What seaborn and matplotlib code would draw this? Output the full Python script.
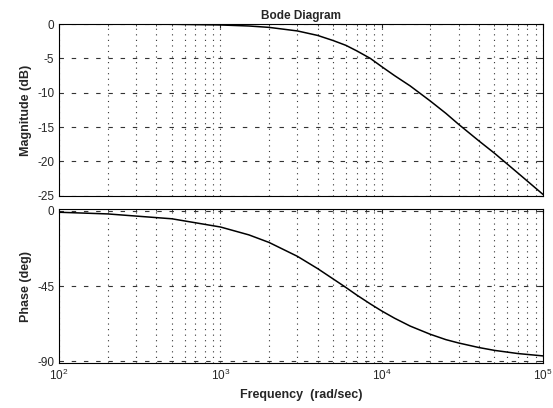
import numpy as np
import pandas as pd
import matplotlib
matplotlib.use("Agg")
import matplotlib.pyplot as plt
import seaborn as sns

# values (rad/sec, dB, deg)
freq = [100, 200, 500, 1000, 1500, 2000, 3000, 4000, 5000, 6000, 7000, 8500,
        10000, 12000, 15000, 20000, 25000, 30000, 40000, 50000, 70000, 100000]
mag_db = [0.0, -0.01, -0.03, -0.13, -0.28, -0.48, -1.0, -1.65, -2.4, -3.1,
          -3.9, -5.0, -6.2, -7.5, -9.0, -11.2, -13.0, -14.6, -17.0, -18.8,
          -21.7, -24.8]
phase_deg = [-1.0, -2.0, -4.9, -9.8, -14.5, -19.0, -27.3, -34.6, -40.8, -45.9,
             -50.4, -55.7, -59.9, -64.2, -68.9, -73.8, -77.0, -79.0, -81.7,
             -83.4, -85.3, -86.7]

mag_ticks = [0, -5, -10, -15, -20, -25]
phase_ticks = [0, -45, -90]

df = pd.DataFrame({"freq": freq, "mag": mag_db, "phase": phase_deg})

sns.set_style("white")
plt.rcParams["font.family"] = ["Liberation Sans", "DejaVu Sans"]
plt.rcParams["axes.unicode_minus"] = False
plt.rcParams["xtick.direction"] = "in"
plt.rcParams["ytick.direction"] = "in"

fig = plt.figure(figsize=(5.53, 4.08), dpi=100)
ax1 = fig.add_axes([0.107, 0.52, 0.875, 0.421])
ax2 = fig.add_axes([0.107, 0.110, 0.875, 0.378])

sns.lineplot(data=df, x="freq", y="mag", ax=ax1, color="black", lw=1.1)
sns.lineplot(data=df, x="freq", y="phase", ax=ax2, color="black", lw=1.1)

for ax in (ax1, ax2):
    ax.set_xscale("log")
    ax.set_xlim(1e2, 1e5)
    ax.grid(axis="x", which="both", ls=(0, (1, 4)), color="#333333", lw=0.8)
    ax.grid(axis="y", which="major", ls=(0, (4, 7)), color="#333333", lw=0.8)
    ax.tick_params(which="both", top=True, right=True, labelsize=8.5, length=3)
    ax.tick_params(which="minor", length=1.5)
    for s in ax.spines.values():
        s.set_color("black")
        s.set_linewidth(0.8)

ax1.set_ylim(-25, 0)
ax1.set_yticks(mag_ticks)
ax1.tick_params(axis="x", which="both", labelbottom=False)
ax1.set_xlabel("")
ax1.set_ylabel("Magnitude (dB)", fontsize=9, fontweight="bold")
ax1.set_title("Bode Diagram", fontsize=8.5, fontweight="bold", pad=4)

ax2.set_ylim(-91, 1)
ax2.set_yticks(phase_ticks)
ax2.set_ylabel("Phase (deg)", fontsize=9, fontweight="bold")
ax2.set_xlabel("Frequency  (rad/sec)", fontsize=9, fontweight="bold")

fig.savefig("out.png", dpi=100)
